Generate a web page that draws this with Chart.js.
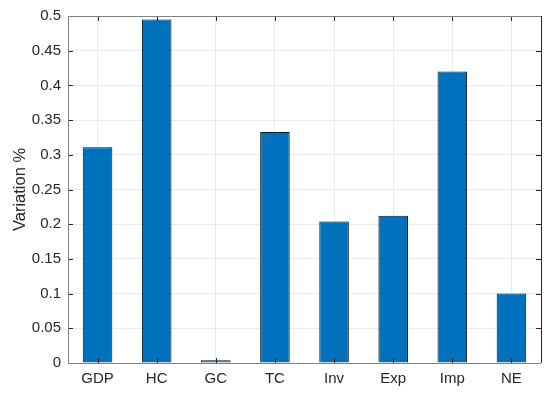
<!DOCTYPE html>
<html>
<head>
<meta charset="utf-8">
<script src="https://cdn.jsdelivr.net/npm/chart.js@4"></script>
<style>
    html, body { margin: 0; padding: 0; background: #fff; }
    #wrap { width: 550px; height: 393px; }
</style>
</head>
<body>
<div id="wrap"><canvas id="varChart" width="550" height="393"></canvas></div>
<script>
// данные
const categories = ['GDP', 'HC', 'GC', 'TC', 'Inv', 'Exp', 'Imp', 'NE'];
const variation = [0.311, 0.495, 0.004, 0.333, 0.204, 0.212, 0.42, 0.1];
const yTicks = [0, 0.05, 0.1, 0.15, 0.2, 0.25, 0.3, 0.35, 0.4, 0.45, 0.5];

const fontFamily = '"Liberation Sans", Arial, Helvetica, sans-serif';
const textColor = '#262626';
const gridColor = '#ebebeb';
const axisColor = '#808080';

// рамка и внутренние засечки как в MATLAB
const boxPlugin = {
    id: 'boxPlugin',
    afterDatasetsDraw(chart) {
        const ctx = chart.ctx;
        const a = chart.chartArea;
        const xs = chart.scales.x;
        const ys = chart.scales.y;
        const tl = 5;
        ctx.save();
        ctx.lineWidth = 1;
        ctx.strokeStyle = '#262626';
        // засечки
        ctx.beginPath();
        xs.ticks.forEach((t, i) => {
            const px = Math.round(xs.getPixelForTick(i)) + 0.5;
            ctx.moveTo(px, a.bottom);
            ctx.lineTo(px, a.bottom - tl);
            ctx.moveTo(px, a.top);
            ctx.lineTo(px, a.top + tl);
        });
        ys.ticks.forEach((t, i) => {
            const py = Math.round(ys.getPixelForTick(i)) + 0.5;
            ctx.moveTo(a.left, py);
            ctx.lineTo(a.left + tl, py);
            ctx.moveTo(a.right, py);
            ctx.lineTo(a.right - tl, py);
        });
        ctx.stroke();
        // рамка
        ctx.strokeStyle = axisColor;
        ctx.beginPath();
        ctx.moveTo(Math.round(a.left) + 0.5, a.top);
        ctx.lineTo(Math.round(a.left) + 0.5, a.bottom);
        ctx.moveTo(a.left, Math.round(a.bottom) + 0.5);
        ctx.lineTo(a.right, Math.round(a.bottom) + 0.5);
        ctx.moveTo(a.left, Math.round(a.top) + 0.5);
        ctx.lineTo(a.right, Math.round(a.top) + 0.5);
        ctx.stroke();
        ctx.strokeStyle = '#262626';
        ctx.beginPath();
        ctx.moveTo(Math.round(a.right) + 0.5, a.top);
        ctx.lineTo(Math.round(a.right) + 0.5, a.bottom);
        ctx.stroke();
        ctx.restore();
    }
};

const ctx = document.getElementById('varChart').getContext('2d');
const varChart = new Chart(ctx, {
    type: 'bar',
    data: {
        labels: categories,
        datasets: [{
            data: variation,
            backgroundColor: '#0072bd',
            borderColor: '#111',
            borderWidth: 1,
            barPercentage: 0.5,
            categoryPercentage: 1
        }]
    },
    options: {
        responsive: false,
        animation: false,
        devicePixelRatio: 1,
        layout: {
            padding: { left: 0, top: 15, right: 9, bottom: 0 }
        },
        plugins: {
            legend: { display: false },
            tooltip: { enabled: false }
        },
        scales: {
            x: {
                offset: true,
                grid: {
                    offset: false,
                    color: gridColor,
                    drawTicks: false
                },
                border: { display: false },
                ticks: {
                    color: textColor,
                    padding: 7,
                    font: { family: fontFamily, size: 15 }
                },
                afterFit(scale) { scale.height = 30; }
            },
            y: {
                min: 0,
                max: 0.5,
                afterBuildTicks(scale) {
                    scale.ticks = yTicks.map(v => ({ value: v }));
                },
                grid: {
                    color: gridColor,
                    drawTicks: false
                },
                border: { display: false },
                ticks: {
                    color: textColor,
                    padding: 7,
                    font: { family: fontFamily, size: 15 },
                    callback: v => String(+v.toFixed(2))
                },
                title: {
                    display: true,
                    text: 'Variation %',
                    color: textColor,
                    font: { family: fontFamily, size: 16.5 },
                    padding: { top: 11, bottom: 0 }
                },
                afterFit(scale) { scale.width = 68; }
            }
        }
    },
    plugins: [boxPlugin]
});
</script>
</body>
</html>
